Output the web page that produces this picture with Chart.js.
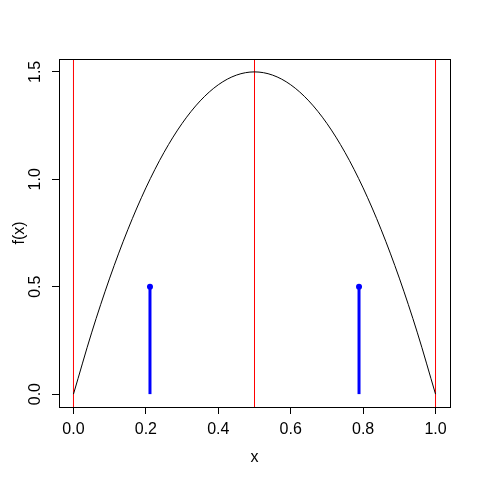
<!DOCTYPE html>
<html>
<head>
<meta charset="utf-8">
<script src="https://cdn.jsdelivr.net/npm/chart.js@4"></script>
<style>
  html, body { margin: 0; padding: 0; background: #fff; }
</style>
</head>
<body>
<canvas id="c" width="480" height="480"></canvas>
<script>
// values
const curveX = [0, 0.05, 0.1, 0.15, 0.2, 0.25, 0.3, 0.35, 0.4, 0.45, 0.5,
                0.55, 0.6, 0.65, 0.7, 0.75, 0.8, 0.85, 0.9, 0.95, 1];
const curveY = [0, 0.285, 0.54, 0.765, 0.96, 1.125, 1.26, 1.365, 1.44, 1.485, 1.5,
                1.485, 1.44, 1.365, 1.26, 1.125, 0.96, 0.765, 0.54, 0.285, 0];
const redLineX = [0, 0.5, 1];
const stemX = [0.2113, 0.7887];
const stemTop = [0.5, 0.5];
const xTicks = [0, 0.2, 0.4, 0.6, 0.8, 1.0];
const yTicks = [0, 0.5, 1.0, 1.5];
const xRange = [-0.04, 1.04];
const yRange = [-0.06, 1.56];

const FONT = '"Liberation Sans", Arial, Helvetica, sans-serif';

const datasets = [];
datasets.push({
  data: curveX.map((x, i) => ({ x: x, y: curveY[i] })),
  borderColor: '#000000',
  borderWidth: 1,
  pointRadius: 0,
  showLine: true,
  cubicInterpolationMode: 'monotone'
});
redLineX.forEach(x => {
  datasets.push({
    data: [{ x: x, y: yRange[0] }, { x: x, y: yRange[1] }],
    borderColor: '#ff0000',
    borderWidth: 1,
    pointRadius: 0,
    showLine: true
  });
});
stemX.forEach((x, i) => {
  datasets.push({
    data: [{ x: x, y: 0 }, { x: x, y: stemTop[i] }],
    borderColor: '#0000ff',
    backgroundColor: '#0000ff',
    borderWidth: 3,
    pointRadius: [0, 3],
    pointBorderWidth: 0,
    showLine: true
  });
});

// box, rotated y labels, axis titles (R style)
const rDecor = {
  id: 'rDecor',
  afterDraw(chart) {
    const ctx = chart.ctx;
    const a = chart.chartArea;
    const ys = chart.scales.y;
    ctx.save();
    ctx.strokeStyle = '#000';
    ctx.lineWidth = 1;
    ctx.strokeRect(Math.round(a.left) + 0.5, Math.round(a.top) + 0.5,
                   Math.round(a.right - a.left), Math.round(a.bottom - a.top));
    ctx.fillStyle = '#000';
    ctx.font = '16px ' + FONT;
    ctx.textAlign = 'center';
    ctx.textBaseline = 'alphabetic';
    yTicks.forEach(v => {
      ctx.save();
      ctx.translate(40, ys.getPixelForValue(v));
      ctx.rotate(-Math.PI / 2);
      ctx.fillText(v.toFixed(1), 0, 0);
      ctx.restore();
    });
    ctx.save();
    ctx.translate(24, (a.top + a.bottom) / 2);
    ctx.rotate(-Math.PI / 2);
    ctx.fillText('f(x)', 0, 0);
    ctx.restore();
    ctx.fillText('x', (a.left + a.right) / 2, 462);
    ctx.restore();
  }
};

new Chart(document.getElementById('c'), {
  type: 'scatter',
  data: { datasets: datasets },
  plugins: [rDecor],
  options: {
    responsive: false,
    animation: false,
    layout: { padding: { top: 59, right: 30, left: 0, bottom: 0 } },
    plugins: { legend: { display: false }, tooltip: { enabled: false } },
    scales: {
      x: {
        type: 'linear',
        min: xRange[0],
        max: xRange[1],
        afterBuildTicks: s => { s.ticks = xTicks.map(v => ({ value: v })); },
        afterFit: s => { s.height = 73; },
        grid: { drawOnChartArea: false, tickLength: 7, tickColor: '#000' },
        border: { color: '#000' },
        ticks: {
          color: '#000',
          font: { size: 16, family: FONT },
          padding: 6,
          maxRotation: 0,
          callback: v => v.toFixed(1)
        }
      },
      y: {
        type: 'linear',
        min: yRange[0],
        max: yRange[1],
        afterBuildTicks: s => { s.ticks = yTicks.map(v => ({ value: v })); },
        afterFit: s => { s.width = 59; },
        grid: { drawOnChartArea: false, tickLength: 7, tickColor: '#000' },
        border: { color: '#000' },
        ticks: { display: false }
      }
    }
  }
});
</script>
</body>
</html>
